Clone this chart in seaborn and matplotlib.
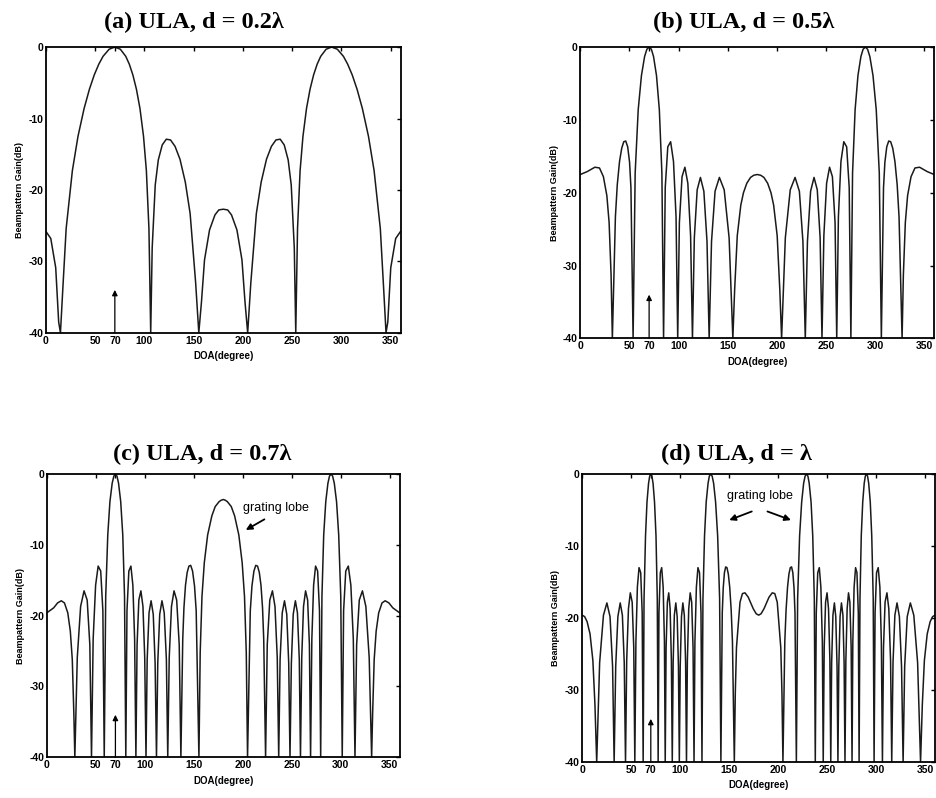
import matplotlib
matplotlib.use('Agg')
import matplotlib.pyplot as plt
import pandas as pd
import seaborn as sns

# Beampattern gain (dB) vs DOA (degree)
deg_a = [0, 5, 10, 13, 14.8, 17.3, 20.6, 26.9, 32.6, 38.8, 44.2, 49.1, 53.7, 58.0, 64.2, 70.0,
         75.6, 81.1, 84.7, 88.3, 91.9, 95.5, 99.1, 102.0, 104.6, 106.4, 107.9, 111.0, 114.1,
         118.1, 122.2, 126.5, 131.1, 136.1, 141.5, 146.4, 152.0, 155.2, 157.9, 161.0, 166.1,
         171.6, 175.5, 180.0,
         184.5, 188.4, 193.9, 199.0, 202.1, 204.8, 208.0, 213.6, 218.5, 223.9, 228.9, 233.5,
         237.8, 241.9, 245.9, 249.0, 252.1, 253.6, 255.4, 258.0, 260.9, 264.5, 268.1, 271.7,
         275.3, 278.9, 284.4, 290.0, 295.8, 302.0, 306.3, 310.9, 315.8, 321.2, 327.4, 333.1,
         339.4, 342.7, 345.2, 347.0, 350.0, 355.0, 360.0]
gain_a = [-25.8, -26.8, -30.9, -38.5, -40, -33.6, -25.4, -17.3, -12.5, -8.6, -5.9, -3.9, -2.4, -1.3, -0.3, 0.0,
          -0.3, -1.3, -2.4, -3.9, -5.9, -8.6, -12.5, -17.3, -25.4, -40, -28.1, -19.3, -15.8,
          -13.7, -12.9, -13.0, -13.9, -15.7, -18.9, -23.3, -33.0, -40, -35.7, -29.8, -25.6,
          -23.5, -22.8, -22.7,
          -22.8, -23.5, -25.6, -29.8, -35.7, -40, -33.0, -23.3, -18.9, -15.7, -13.9, -13.0,
          -12.9, -13.7, -15.8, -19.3, -28.1, -40, -25.4, -17.3, -12.5, -8.6, -5.9, -3.9,
          -2.4, -1.3, -0.3, 0.0, -0.3, -1.3, -2.4, -3.9, -5.9, -8.6, -12.5, -17.3,
          -25.4, -33.6, -40, -38.5, -30.9, -26.8, -25.8]

deg_b = [0, 7.0, 14.8, 19.5, 23.5, 27.0, 29.3, 31.3, 32.6, 35.7, 37.6, 39.9, 42.1, 44.2, 46.2,
         48.2, 50.1, 51.5, 53.7, 55.8, 58.9, 62.2, 65.4, 67.7, 70.0, 72.3, 74.5, 77.5, 80.4,
         83.0, 84.7, 86.4, 89.0, 91.9, 94.8, 97.4, 99.1, 100.8, 103.5, 106.4, 109.4, 112.2,
         114.1, 116.0, 118.9, 122.2, 125.7, 128.9, 131.1, 133.5, 137.1, 141.5, 146.4, 151.4,
         155.2, 157.0, 159.7, 163.3, 166.0, 169.4, 173.2, 176.5, 180.0,
         183.5, 186.8, 190.6, 194.0, 196.7, 200.3, 203.0, 204.8, 208.6, 213.6, 218.5, 222.9,
         226.5, 228.9, 231.1, 234.3, 237.8, 241.1, 244.0, 245.9, 247.8, 250.6, 253.6, 256.5,
         259.2, 260.9, 262.6, 265.2, 268.1, 271.0, 273.6, 275.3, 277.0, 279.6, 282.5, 285.5,
         287.7, 290.0, 292.3, 294.6, 297.8, 301.1, 304.2, 306.3, 308.5, 309.9, 311.8, 313.8,
         315.8, 317.9, 320.1, 322.4, 324.3, 327.4, 328.7, 330.7, 333.0, 336.5, 340.5, 345.2,
         353.0, 360.0]
gain_b = [-17.5, -17.1, -16.5, -16.6, -17.8, -20.4, -24.1, -31.3, -40, -23.3, -18.9, -15.7, -13.9, -13.0, -12.9,
          -13.7, -15.8, -19.3, -40, -17.3, -8.6, -3.9, -1.3, -0.3, 0.0, -0.3, -1.3, -3.9, -8.6,
          -17.3, -40, -19.3, -13.7, -13.0, -15.7, -23.3, -40, -24.1, -17.8, -16.5, -18.7, -25.9,
          -40, -26.2, -19.6, -17.9, -19.8, -26.7, -40, -26.7, -19.8, -17.9, -19.6, -26.2,
          -40, -33.4, -25.9, -21.7, -20.0, -18.7, -17.9, -17.6, -17.5,
          -17.6, -17.9, -18.7, -20.0, -21.7, -25.9, -33.4, -40, -26.2, -19.6, -17.9, -19.8,
          -26.7, -40, -26.7, -19.8, -17.9, -19.6, -26.2, -40, -25.9, -18.7, -16.5, -17.8,
          -24.1, -40, -23.3, -15.7, -13.0, -13.7, -19.3, -40, -17.3, -8.6, -3.9, -1.3,
          -0.3, 0.0, -0.3, -1.3, -3.9, -8.6, -17.3, -40, -19.3, -15.8, -13.7, -12.9,
          -13.0, -13.9, -15.7, -18.9, -23.3, -40, -31.3, -24.1, -20.4, -17.8, -16.6, -16.5,
          -17.1, -17.5]

deg_c = [0, 7.0, 11.0, 14.8, 18.0, 21.4, 24.0, 26.0, 27.6, 28.6, 31.1, 34.5, 38.0, 41.2, 43.9,
         45.6, 47.3, 49.8, 52.4, 55.0, 57.2, 58.6, 60.1, 62.2, 64.4, 66.7, 68.4, 70.0, 71.6,
         73.2, 75.4, 77.5, 79.3, 80.6, 81.8, 83.7, 85.8, 87.8, 89.6, 90.9, 92.1, 93.9, 96.0,
         98.1, 99.9, 101.2, 102.4, 104.3, 106.4, 108.6, 110.5, 111.9, 113.2, 115.2, 117.5,
         119.8, 122.0, 123.4, 124.9, 127.2, 129.8, 132.5, 135.1, 136.8, 138.7, 139.9, 141.5,
         143.2, 145.0, 146.8, 148.7, 150.7, 152.4, 155.2, 156.5, 158.3, 160.7, 164.1, 168.4,
         171.8, 175.8, 177.9, 180.0,
         182.1, 184.2, 188.2, 191.6, 195.9, 199.3, 201.7, 203.5, 204.8, 207.6, 209.3, 211.3,
         213.2, 215.0, 216.8, 218.5, 220.1, 221.3, 223.2, 224.9, 227.5, 230.2, 232.8, 235.1,
         236.6, 238.0, 240.2, 242.5, 244.8, 246.8, 248.1, 249.5, 251.4, 253.6, 255.7, 257.6,
         258.8, 260.1, 261.9, 264.0, 266.1, 267.9, 269.1, 270.4, 272.2, 274.2, 276.3, 278.2,
         279.4, 280.7, 282.5, 284.6, 286.8, 288.4, 290.0, 291.6, 293.3, 295.6, 297.8, 299.9,
         301.4, 302.8, 305.0, 307.6, 310.2, 312.7, 314.4, 316.1, 318.8, 322.0, 325.5, 328.9,
         331.4, 332.4, 334.0, 336.0, 338.6, 342.0, 345.2, 349.0, 353.0, 360.0]
gain_c = [-19.6, -18.9, -18.2, -17.9, -18.2, -19.6, -22.2, -26.2, -33.9, -40, -25.9, -18.7, -16.5, -17.8, -24.1,
          -40, -23.3, -15.7, -13.0, -13.7, -19.3, -40, -17.3, -8.6, -3.9, -1.3, -0.3, 0.0, -0.3,
          -1.3, -3.9, -8.6, -17.3, -40, -19.3, -13.7, -13.0, -15.7, -23.3, -40, -24.1, -17.8, -16.5,
          -18.7, -25.9, -40, -26.2, -19.6, -17.9, -19.8, -26.7, -40, -26.7, -19.8, -17.9,
          -19.6, -26.2, -40, -25.9, -18.7, -16.5, -17.8, -24.1, -40, -23.3, -18.9, -15.7,
          -13.9, -13.0, -12.9, -13.7, -15.8, -19.3, -40, -25.2, -17.3, -12.5, -8.6, -5.9,
          -4.6, -3.9, -3.7, -3.6,
          -3.7, -3.9, -4.6, -5.9, -8.6, -12.5, -17.3, -25.2, -40, -19.3, -15.8, -13.7,
          -12.9, -13.0, -13.9, -15.7, -18.9, -23.3, -40, -24.1, -17.8, -16.5, -18.7, -25.9,
          -40, -26.2, -19.6, -17.9, -19.8, -26.7, -40, -26.7, -19.8, -17.9, -19.6, -26.2,
          -40, -25.9, -18.7, -16.5, -17.8, -24.1, -40, -23.3, -15.7, -13.0, -13.7, -19.3,
          -40, -17.3, -8.6, -3.9, -1.3, -0.3, 0.0, -0.3, -1.3, -3.9, -8.6, -17.3,
          -40, -19.3, -13.7, -13.0, -15.7, -23.3, -40, -24.1, -17.8, -16.5, -18.7, -25.9,
          -40, -33.9, -26.2, -22.2, -19.6, -18.2, -17.9, -18.2, -18.9, -19.6]

deg_d = [0, 2.5, 5.0, 8.0, 10.9, 13.0, 14.8, 17.8, 21.7, 25.2, 28.4, 31.0, 32.6, 34.2, 36.4, 38.8,
         41.0, 42.9, 44.2, 45.4, 47.2, 49.1, 51.0, 52.6, 53.7, 54.8, 56.3, 58.0, 59.7, 61.2,
         62.2, 63.1, 64.6, 66.1, 67.7, 68.85, 70.0, 71.15, 72.3, 73.8, 75.3, 76.6, 77.5, 78.3,
         79.7, 81.1, 82.6, 83.9, 84.7, 85.6, 86.9, 88.3, 89.7, 91.0, 91.9, 92.8, 94.0, 95.5,
         96.9, 98.2, 99.1, 100.0, 101.3, 102.7, 104.2, 105.5, 106.4, 107.3, 108.7, 110.2,
         111.7, 113.1, 114.1, 115.0, 116.5, 118.1, 119.7, 121.2, 122.2, 123.2, 124.8, 126.5,
         128.4, 129.7, 131.1, 132.6, 134.1, 136.1, 138.2, 140.2, 141.5, 142.9, 143.9, 145.1,
         146.4, 147.7, 149.1, 150.5, 152.0, 153.3, 155.2, 156.2, 157.4, 161.0, 163.5, 166.1,
         169.4, 171.9, 174.5, 177.5, 180.0,
         182.5, 185.5, 188.1, 190.6, 193.9, 196.5, 199.0, 202.6, 203.8, 204.8, 206.7, 208.0,
         209.5, 210.9, 212.3, 213.6, 214.9, 216.1, 217.1, 218.5,
         219.8, 221.8, 223.9, 225.9, 227.4, 228.9, 230.3, 231.6, 233.5, 235.2, 236.8, 237.8,
         238.8, 240.3, 241.9, 243.5, 245.0, 245.9, 246.9, 248.3, 249.8, 251.3, 252.7, 253.6,
         254.5, 255.8, 257.3, 258.7, 260.0, 260.9, 261.8, 263.1, 264.5, 266.0, 267.2, 268.1,
         269.0, 270.3, 271.7, 273.1, 274.4, 275.3, 276.1, 277.4, 278.9, 280.3, 281.7, 282.5,
         283.4, 284.7, 286.2, 287.7, 288.85, 290.0, 291.15, 292.3, 293.9, 295.4, 296.9, 297.8,
         298.8, 300.3, 302.0, 303.7, 305.2, 306.3, 307.4, 309.0, 310.9, 312.8, 314.6, 315.8,
         317.1, 319.0, 321.2, 323.6, 325.8, 327.4, 329.0, 331.6, 334.8, 338.3, 342.2, 345.2,
         347.0, 349.1, 352.0, 355.0, 357.5, 360.0]
gain_d = [-19.6, -19.8, -20.5, -22.2, -25.9, -32.0, -40, -26.2, -19.6, -17.9, -19.8, -26.7, -40, -26.7, -19.8, -17.9,
          -19.6, -26.2, -40, -25.9, -18.7, -16.5, -17.8, -24.1, -40, -23.3, -15.7, -13.0, -13.7, -19.3,
          -40, -17.3, -8.6, -3.9, -1.3, -0.3, 0.0, -0.3, -1.3, -3.9, -8.6, -17.3, -40, -19.3,
          -13.7, -13.0, -15.7, -23.3, -40, -24.1, -17.8, -16.5, -18.7, -25.9, -40, -26.2, -19.6, -17.9,
          -19.8, -26.7, -40, -26.7, -19.8, -17.9, -19.6, -26.2, -40, -25.9, -18.7, -16.5,
          -17.8, -24.1, -40, -23.3, -15.7, -13.0, -13.7, -19.3, -40, -17.3, -8.6, -3.9,
          -1.3, -0.3, 0.0, -0.3, -1.3, -3.9, -8.6, -17.3, -40, -19.3, -15.8, -13.7,
          -12.9, -13.0, -13.9, -15.7, -18.9, -23.3, -40, -30.4, -24.1, -17.8, -16.6, -16.5,
          -17.1, -17.9, -18.7, -19.4, -19.6,
          -19.4, -18.7, -17.9, -17.1, -16.5, -16.6, -17.8, -24.1, -30.4, -40, -23.3, -18.9,
          -15.7, -13.9, -13.0, -12.9, -13.7, -15.8, -19.3, -40,
          -17.3, -8.6, -3.9, -1.3, -0.3, 0.0, -0.3, -1.3, -3.9, -8.6, -17.3, -40,
          -19.3, -13.7, -13.0, -15.7, -23.3, -40, -24.1, -17.8, -16.5, -18.7, -25.9, -40,
          -26.2, -19.6, -17.9, -19.8, -26.7, -40, -26.7, -19.8, -17.9, -19.6, -26.2, -40,
          -25.9, -18.7, -16.5, -17.8, -24.1, -40, -23.3, -15.7, -13.0, -13.7, -19.3, -40,
          -17.3, -8.6, -3.9, -1.3, -0.3, 0.0, -0.3, -1.3, -3.9, -8.6, -17.3, -40,
          -19.3, -13.7, -13.0, -15.7, -23.3, -40, -24.1, -17.8, -16.5, -18.7, -25.9, -40,
          -26.2, -19.6, -17.9, -19.8, -26.7, -40, -26.7, -19.8, -17.9, -19.6, -26.2, -40,
          -32.0, -25.9, -22.2, -20.5, -19.8, -19.6]

titles = ['(a) ULA, d = 0.2λ', '(b) ULA, d = 0.5λ', '(c) ULA, d = 0.7λ', '(d) ULA, d = λ']
xticks = [0, 50, 70, 100, 150, 200, 250, 300, 350]
yticks = [0, -10, -20, -30, -40]
doa = 70          # true DOA, marked with a small arrow
doa_mark = -34

sns.set_style('white')
plt.rcParams['font.family'] = ['Liberation Sans', 'DejaVu Sans']
plt.rcParams['text.color'] = 'black'
plt.rcParams['axes.labelcolor'] = 'black'
plt.rcParams['xtick.color'] = 'black'
plt.rcParams['ytick.color'] = 'black'

fig = plt.figure(figsize=(9.36, 7.98), dpi=100)

# axes boxes [left, bottom, width, height] and title anchor (x, y) in figure fraction
boxes = [[0.049, 0.583, 0.379, 0.358], [0.620, 0.576, 0.378, 0.365],
         [0.050, 0.051, 0.377, 0.355], [0.622, 0.045, 0.377, 0.361]]
title_xy = [(0.207, 0.972), (0.794, 0.972), (0.216, 0.431), (0.787, 0.431)]

panels = [(deg_a, gain_a), (deg_b, gain_b), (deg_c, gain_c), (deg_d, gain_d)]

for i, (deg, gain) in enumerate(panels):
    ax = fig.add_axes(boxes[i])
    df = pd.DataFrame({'doa': deg, 'gain': gain})
    sns.lineplot(data=df, x='doa', y='gain', ax=ax, color='#1a1a1a', linewidth=1.1,
                 sort=False, estimator=None)
    ax.set_xlim(0, 360)
    ax.set_ylim(-40, 0)
    ax.set_xticks(xticks)
    ax.set_yticks(yticks)
    ax.set_xticklabels([str(t) for t in xticks], fontsize=7.5, fontweight='bold')
    ax.set_yticklabels([str(t) for t in yticks], fontsize=7.5, fontweight='bold')
    ax.tick_params(direction='in', top=True, right=True, length=3, width=1, pad=2)
    for sp in ax.spines.values():
        sp.set_color('black')
        sp.set_linewidth(1.3)
    ax.set_xlabel('DOA(degree)', fontsize=7, fontweight='bold', labelpad=4)
    ax.set_ylabel('Beampattern Gain(dB)', fontsize=6.5, fontweight='bold', labelpad=3)

    # DOA marker
    ax.annotate('', xy=(doa, doa_mark), xytext=(doa, -40),
                arrowprops=dict(arrowstyle='-|>', color='black', lw=0.9,
                                mutation_scale=8, shrinkA=0, shrinkB=0))

    fig.text(title_xy[i][0], title_xy[i][1], titles[i], ha='center', va='center',
             fontsize=17.5, fontweight='bold', color='black',
             family=['Liberation Serif', 'DejaVu Serif'])

    if i == 2:
        ax.text(200, -4.8, 'grating lobe', fontsize=9, ha='left', va='center')
        ax.annotate('', xy=(203, -7.9), xytext=(222, -6.4),
                    arrowprops=dict(arrowstyle='-|>', color='black', lw=1.3,
                                    mutation_scale=9, shrinkA=0, shrinkB=0))
    if i == 3:
        ax.text(181, -3.0, 'grating lobe', fontsize=9, ha='center', va='center')
        ax.annotate('', xy=(150, -6.4), xytext=(173, -5.2),
                    arrowprops=dict(arrowstyle='-|>', color='black', lw=1.3,
                                    mutation_scale=9, shrinkA=0, shrinkB=0))
        ax.annotate('', xy=(213, -6.4), xytext=(189, -5.2),
                    arrowprops=dict(arrowstyle='-|>', color='black', lw=1.3,
                                    mutation_scale=9, shrinkA=0, shrinkB=0))

fig.savefig('out.png', dpi=100)
